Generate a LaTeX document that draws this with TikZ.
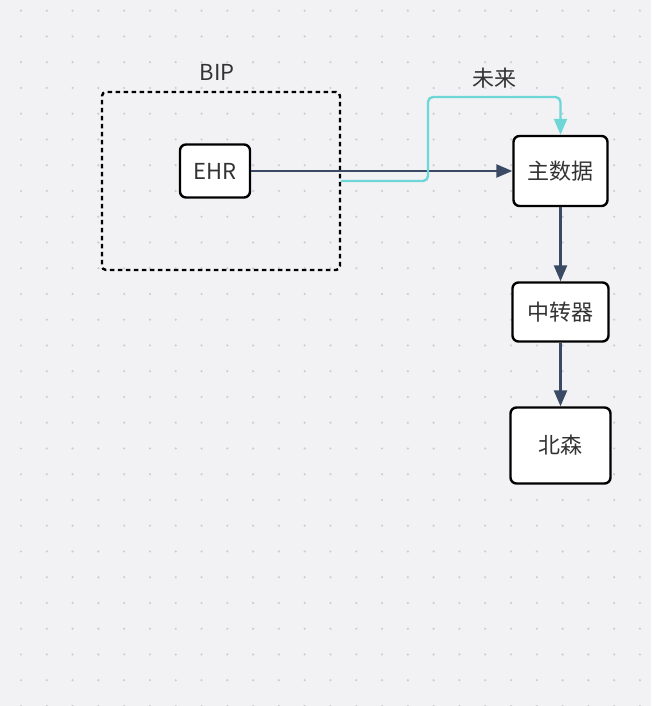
\documentclass[tikz,border=0pt]{standalone}
\usepackage{fontspec}
\setmainfont{Noto Sans CJK SC}
\usetikzlibrary{arrows.meta}

\definecolor{paper}{HTML}{F2F2F4}
\definecolor{griddot}{HTML}{CDCDD1}
\definecolor{wire}{HTML}{3A4A64}
\definecolor{future}{HTML}{6FD6D8}
\definecolor{ink}{HTML}{333333}

\begin{document}
\begin{tikzpicture}[x=1pt,y=-1pt,text centered,
    box/.style={draw=black,line width=2.4pt,fill=white,rounded corners=6pt,
                text=ink,font=\fontsize{22}{25}\selectfont,inner sep=0pt},
    wireline/.style={draw=wire,line width=2.4pt,-{Triangle[length=16pt,width=13pt]}},
    futureline/.style={draw=future,line width=2.4pt,rounded corners=5pt,
                       -{Triangle[length=16pt,width=13pt]}}]

%% background and dot grid
\fill[paper] (0,0) rectangle (651,706);
\useasboundingbox (0,0) rectangle (651,706);
\foreach \i in {0,...,24}
  \foreach \j in {0,...,27}
    \fill[griddot] (21+25.79*\i,10.7+25.75*\j) circle(1.2pt);

%% BIP group
\node (bip) at (221,181) [draw=black,line width=2.4pt,dash pattern=on 4.5pt off 3.5pt,
      rounded corners=4pt,minimum width=238pt,minimum height=178pt] {};
\node (biplabel) at (217,72) [text=ink,font=\fontsize{22}{25}\selectfont] {BIP};
\node (ehr) at (215,171) [box,minimum width=70pt,minimum height=53pt] {EHR};

%% right column
\node (main) at (560.5,171) [box,minimum width=94pt,minimum height=70pt] {主数据};
\node (relay) at (560.5,312) [box,minimum width=96pt,minimum height=59pt] {中转器};
\node (beisen) at (560.5,445.5) [box,minimum width=100pt,minimum height=76pt] {北森};

%% connectors
\draw[wireline] (ehr.east) -- (main.west);
\draw[wireline] (main.south) -- (relay.north);
\draw[wireline] (relay.south) -- (beisen.north);

\coordinate (turn) at (428,97);
\draw[futureline] (bip.east) -| (turn) -| (main.north);
\node (futurelabel) at (494,78) [text=ink,font=\fontsize{22}{25}\selectfont] {未来};

\end{tikzpicture}
\end{document}
